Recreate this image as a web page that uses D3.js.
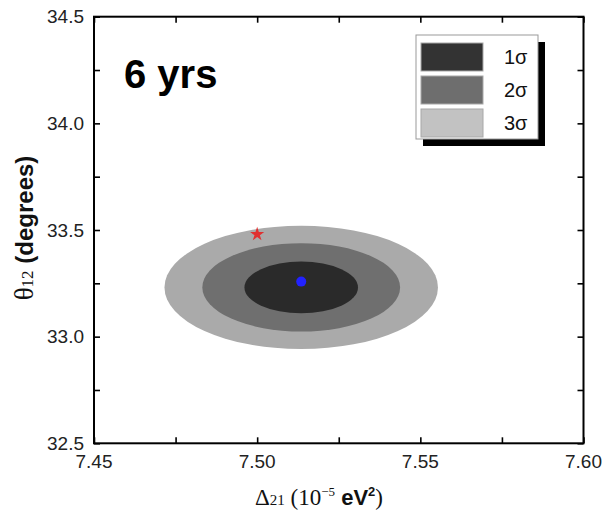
<!DOCTYPE html>
<html>
<head>
<meta charset="utf-8">
<script src="https://cdn.jsdelivr.net/npm/d3@7"></script>
<style>
  html, body { margin: 0; padding: 0; background: #fff; }
  svg { display: block; }
</style>
</head>
<body>
<svg id="chart" width="602" height="511"></svg>
<script>
// Axis ranges and tick values
const xDomain = [7.45, 7.60];
const yDomain = [32.5, 34.5];
const xMajorTicks = [7.45, 7.50, 7.55, 7.60];
const xMinorTicks = [7.475, 7.525, 7.575];
const yMajorTicks = [32.5, 33.0, 33.5, 34.0, 34.5];
const yMinorTicks = [32.75, 33.25, 33.75, 34.25];

// Confidence regions (drawn largest first)
const levels = ["3σ", "2σ", "1σ"];
const centerDm = [7.5135, 7.5135, 7.5135];
const centerTh = [33.231, 33.231, 33.231];
const halfWidthDm = [0.0419, 0.0303, 0.0174];
const halfHeightTh = [0.289, 0.207, 0.121];
const regionColors = ["#aaaaaa", "#6f6f6f", "#2a2a2a"];

// Legend entries (top to bottom)
const legendLabels = ["1σ", "2σ", "3σ"];
const legendColors = ["#333333", "#6e6e6e", "#c2c2c2"];

// Best-fit point and reference point
const bestFit = [7.5135, 33.258];
const refPoint = [7.50, 33.48];

const svg = d3.select("#chart");
const frame = { left: 94, right: 583.5, top: 16.7, bottom: 443.3 };

const x = d3.scaleLinear().domain(xDomain).range([frame.left, frame.right]);
const y = d3.scaleLinear().domain(yDomain).range([frame.bottom, frame.top]);

const sans = "'Liberation Sans', Arial, Helvetica, sans-serif";
const serif = "'Liberation Serif', 'Times New Roman', Times, serif";

// Confidence ellipses
svg.append("g").selectAll("ellipse")
  .data(levels)
  .join("ellipse")
  .attr("cx", (d, i) => x(centerDm[i]))
  .attr("cy", (d, i) => y(centerTh[i]))
  .attr("rx", (d, i) => x(centerDm[i] + halfWidthDm[i]) - x(centerDm[i]))
  .attr("ry", (d, i) => y(centerTh[i]) - y(centerTh[i] + halfHeightTh[i]))
  .attr("fill", (d, i) => regionColors[i]);

// Best-fit point
svg.append("circle")
  .attr("cx", x(bestFit[0]))
  .attr("cy", y(bestFit[1]))
  .attr("r", 5)
  .attr("fill", "#2222ff");

// Reference point (star)
svg.append("path")
  .attr("d", d3.symbol().type(d3.symbolStar).size(62)())
  .attr("transform", `translate(${x(refPoint[0])},${y(refPoint[1])})`)
  .attr("fill", "#e03030");

// Axes with inward ticks on all four sides
const tickLen = 6;
function addAxis(axisGen, transform, ticks) {
  const g = svg.append("g").attr("transform", transform)
    .call(axisGen.tickValues(ticks).tickSizeInner(-tickLen).tickSizeOuter(0));
  g.select(".domain").remove();
  g.selectAll(".tick line").attr("stroke", "#000").attr("stroke-width", 1.6);
  g.selectAll(".tick text").remove();
  return g;
}
const allX = xMajorTicks.concat(xMinorTicks);
const allY = yMajorTicks.concat(yMinorTicks);

addAxis(d3.axisBottom(x), `translate(0,${frame.bottom})`, allX);
addAxis(d3.axisTop(x), `translate(0,${frame.top})`, allX);
addAxis(d3.axisLeft(y), `translate(${frame.left},0)`, allY);
addAxis(d3.axisRight(y), `translate(${frame.right},0)`, allY);

// Tick labels
svg.append("g").selectAll("text")
  .data(xMajorTicks)
  .join("text")
  .attr("x", d => x(d))
  .attr("y", 468)
  .attr("text-anchor", "middle")
  .attr("font-family", sans)
  .attr("font-size", 19)
  .attr("fill", "#222")
  .text(d3.format(".2f"));

svg.append("g").selectAll("text")
  .data(yMajorTicks)
  .join("text")
  .attr("x", 84)
  .attr("y", d => y(d))
  .attr("dy", "0.35em")
  .attr("text-anchor", "end")
  .attr("font-family", sans)
  .attr("font-size", 19)
  .attr("fill", "#222")
  .text(d3.format(".1f"));

// Plot frame
svg.append("rect")
  .attr("x", frame.left).attr("y", frame.top)
  .attr("width", frame.right - frame.left)
  .attr("height", frame.bottom - frame.top)
  .attr("fill", "none")
  .attr("stroke", "#000")
  .attr("stroke-width", 2);

// Exposure label
svg.append("text")
  .attr("x", 124).attr("y", 88)
  .attr("font-family", sans)
  .attr("font-weight", "bold")
  .attr("font-size", 40)
  .attr("fill", "#000")
  .text("6 yrs");

// Legend with drop shadow
const lg = { x: 416, y: 35, w: 122, h: 104 };
svg.append("rect")
  .attr("x", lg.x + 7).attr("y", lg.y + 7)
  .attr("width", lg.w).attr("height", lg.h)
  .attr("fill", "#000");
svg.append("rect")
  .attr("x", lg.x).attr("y", lg.y)
  .attr("width", lg.w).attr("height", lg.h)
  .attr("fill", "#fff")
  .attr("stroke", "#999")
  .attr("stroke-width", 1);

const rows = svg.append("g").selectAll("g")
  .data(legendLabels)
  .join("g")
  .attr("transform", (d, i) => `translate(${lg.x + 5},${lg.y + 8 + i * 33})`);
rows.append("rect")
  .attr("width", 62).attr("height", 28)
  .attr("fill", (d, i) => legendColors[i])
  .attr("stroke", "#a8a8a8")
  .attr("stroke-width", 1);
rows.append("text")
  .attr("x", 83).attr("y", 14)
  .attr("dy", "0.35em")
  .attr("font-family", sans)
  .attr("font-size", 20)
  .attr("fill", "#111")
  .text(d => d);

// X-axis title
const xt = svg.append("text")
  .attr("x", 319).attr("y", 505)
  .attr("text-anchor", "middle")
  .attr("fill", "#111");
xt.append("tspan").attr("font-family", serif).attr("font-size", 23).text("Δ");
xt.append("tspan").attr("font-family", serif).attr("font-size", 15).text("21");
xt.append("tspan").attr("font-family", serif).attr("font-size", 23).text(" (10");
xt.append("tspan").attr("font-family", serif).attr("font-size", 13).attr("dy", -9).text("−5");
xt.append("tspan").attr("font-family", sans).attr("font-weight", "bold").attr("font-size", 22).attr("dy", 9).text(" eV");
xt.append("tspan").attr("font-family", sans).attr("font-weight", "bold").attr("font-size", 13).attr("dy", -9).text("2");
xt.append("tspan").attr("font-family", serif).attr("font-size", 23).attr("dy", 9).text(")");

// Y-axis title
const yt = svg.append("text")
  .attr("transform", "translate(33,228) rotate(-90)")
  .attr("text-anchor", "middle")
  .attr("fill", "#111");
yt.append("tspan").attr("font-family", serif).attr("font-size", 27).text("θ");
yt.append("tspan").attr("font-family", serif).attr("font-size", 17).text("12");
yt.append("tspan").attr("font-family", sans).attr("font-weight", "bold").attr("font-size", 24).text(" (degrees)");
</script>
</body>
</html>
